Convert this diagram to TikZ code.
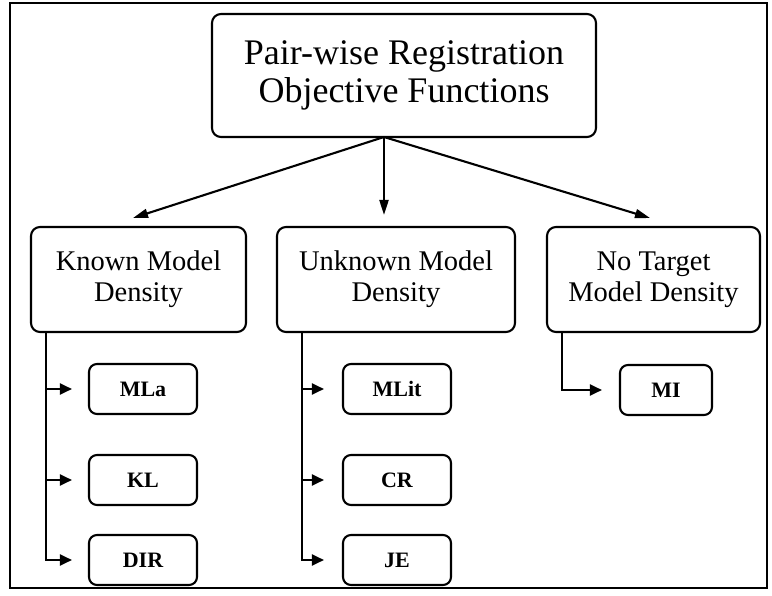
\documentclass[tikz,border=0pt]{standalone}
\usepackage{fontspec}
\setmainfont{Liberation Serif}
\usetikzlibrary{arrows.meta}
\begin{document}
\begin{tikzpicture}[x=1pt,y=-1pt,
  box/.style={draw, line width=2.1pt, rounded corners=9pt, inner sep=0pt, align=center},
  topbox/.style={box, minimum width=384pt, minimum height=123pt, font=\fontsize{36}{38}\selectfont},
  midbox/.style={box, minimum height=105pt, font=\fontsize{28.5}{31}\selectfont},
  leaf/.style={box, rounded corners=8pt, minimum height=50pt, font=\fontsize{22}{24}\selectfont\bfseries},
  bigarr/.style={line width=2.1pt, -{Triangle[length=15pt,width=9pt]}},
  brarr/.style={line width=2pt, -{Triangle[length=12pt,width=11pt]}}]
\useasboundingbox (0,0) rectangle (772,596);
\draw[line width=1.5pt] (10,3) rectangle (767,588);

\node[topbox] (top) at (404,75.5) {Pair-wise Registration\\Objective Functions};

\node[midbox, minimum width=215pt] (known) at (138.5,279.5) {Known Model\\Density};
\node[midbox, minimum width=238pt] (unknown) at (396,279.5) {Unknown Model\\Density};
\node[midbox, minimum width=213pt] (notarget) at (653.5,279.5) {No Target\\Model Density};

\node[leaf, minimum width=108pt] (mla) at (143,389) {MLa};
\node[leaf, minimum width=108pt] (kl) at (143,480) {KL};
\node[leaf, minimum width=108pt] (dir) at (143,560) {DIR};

\node[leaf, minimum width=108pt] (mlit) at (397,389) {MLit};
\node[leaf, minimum width=108pt] (cr) at (397,480) {CR};
\node[leaf, minimum width=108pt] (je) at (397,560) {JE};

\node[leaf, minimum width=92pt] (mi) at (666,390) {MI};

\coordinate (o) at (384,137);
\coordinate (tk) at (133,218);
\coordinate (tu) at (384,215);
\coordinate (tn) at (650,218);
\draw[bigarr] (o) -- (tk);
\draw[bigarr] (o) -- (tu);
\draw[bigarr] (o) -- (tn);

\coordinate (kx) at ([xshift=16pt]known.south west);
\draw[brarr, shorten >=16pt] (kx) |- (mla.west);
\draw[brarr, shorten >=16pt] (kx) |- (kl.west);
\draw[brarr, shorten >=16pt] (kx) |- (dir.west);

\coordinate (ux) at ([xshift=26pt]unknown.south west);
\draw[brarr, shorten >=18pt] (ux) |- (mlit.west);
\draw[brarr, shorten >=18pt] (ux) |- (cr.west);
\draw[brarr, shorten >=18pt] (ux) |- (je.west);

\coordinate (nx) at ([xshift=16pt]notarget.south west);
\draw[brarr, shorten >=17pt] (nx) |- (mi.west);
\end{tikzpicture}
\end{document}
